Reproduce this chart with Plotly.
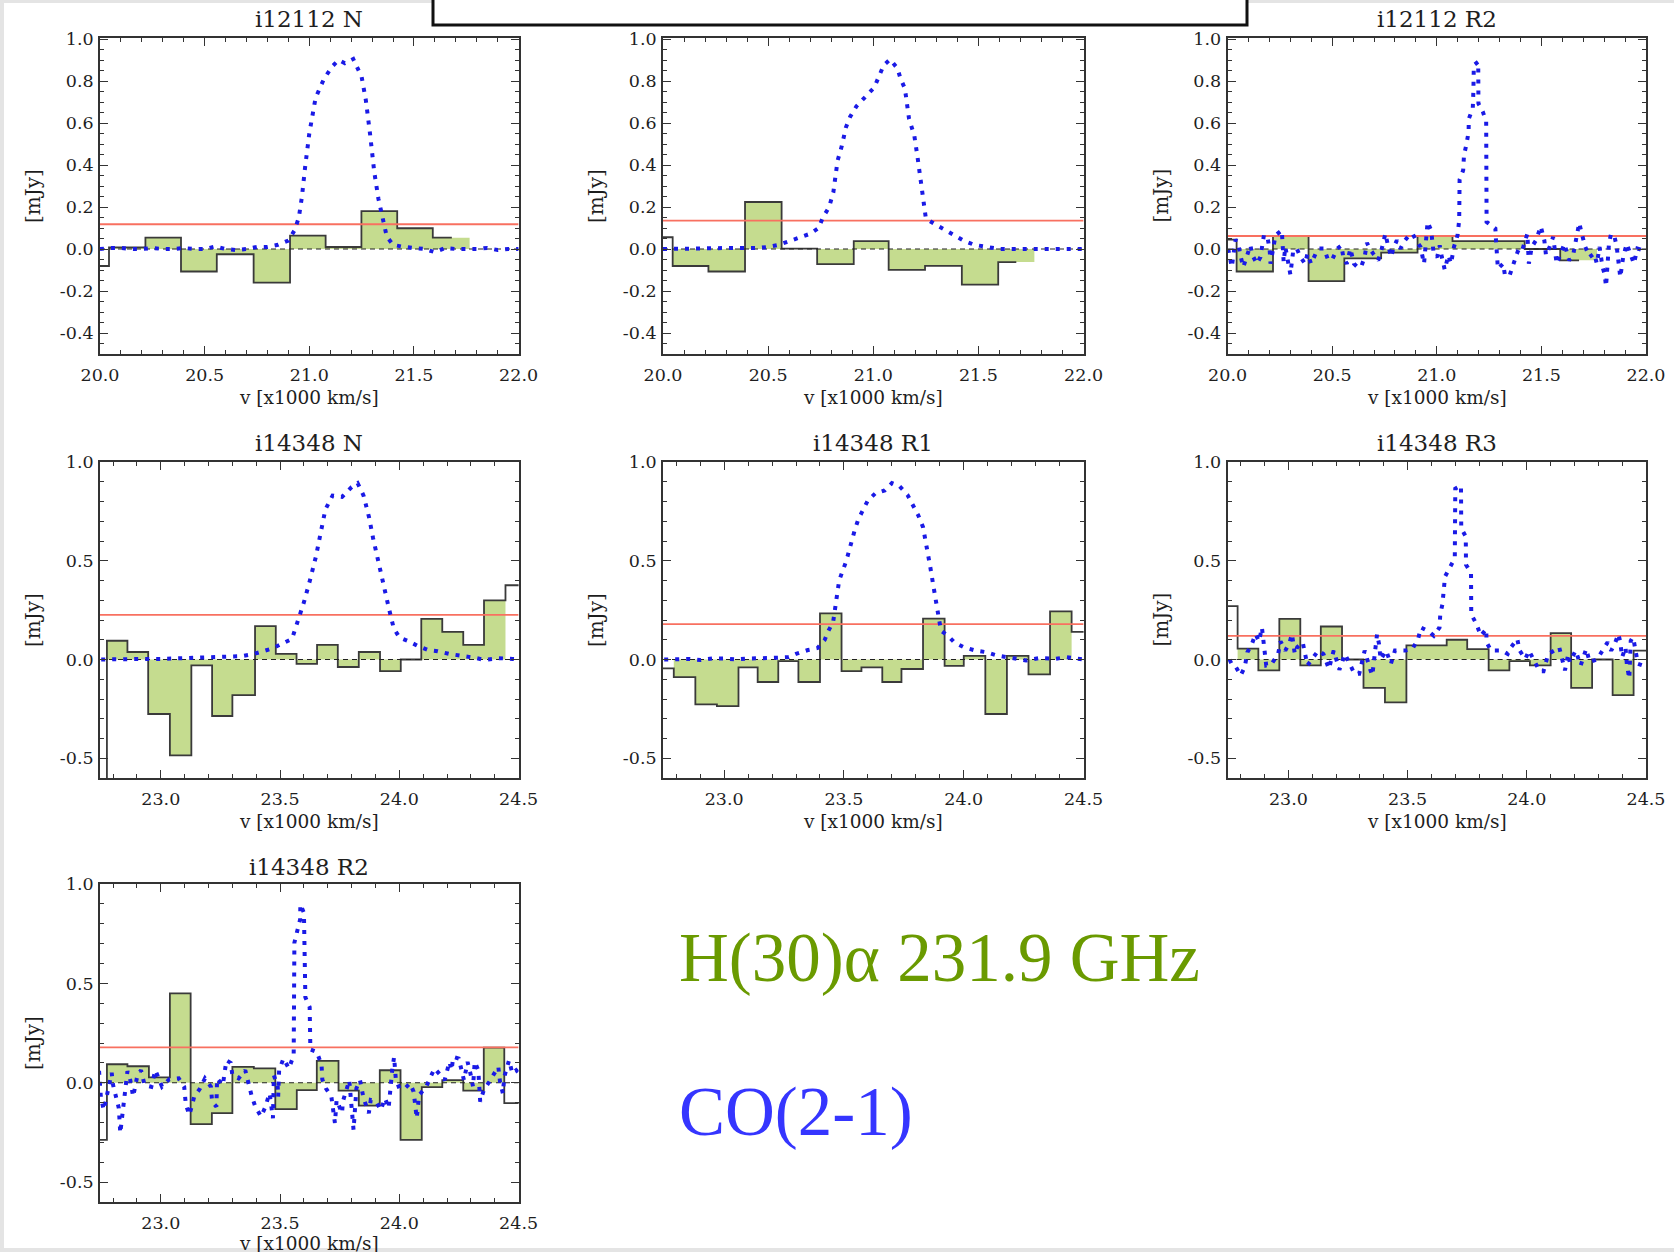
import plotly.graph_objects as go

W, H = 1674, 1252

# ---------------- data ----------------
titles = ["i12112 N", "", "i12112 R2", "i14348 N", "i14348 R1", "i14348 R3", "i14348 R2"]

# H(30)alpha binned spectra: bin edges [x1000 km/s] and flux [mJy]
h1_edges = [19.96, 20.043, 20.217, 20.387, 20.558, 20.734, 20.908, 21.078, 21.249, 21.420, 21.590, 21.681]
h1_vals = [-0.081, 0.008, 0.054, -0.107, -0.025, -0.16, 0.064, 0.0095, 0.18, 0.099, 0.054]
h2_edges = [19.96, 20.046, 20.216, 20.39, 20.564, 20.733, 20.907, 21.073, 21.246, 21.421, 21.594, 21.68]
h2_vals = [0.056, -0.081, -0.107, 0.224, 0.002, -0.072, 0.038, -0.099, -0.08, -0.17, -0.062]
h3_edges = [19.96, 20.043, 20.217, 20.387, 20.558, 20.734, 20.908, 21.075, 21.249, 21.42, 21.59, 21.68]
h3_vals = [0.045, -0.107, 0.062, -0.153, -0.045, -0.017, 0.062, 0.038, 0.038, 0.0, -0.054]
h4_edges = [22.70, 22.774, 22.86, 22.947, 23.038, 23.128, 23.215, 23.30, 23.395, 23.482, 23.569, 23.655,
            23.742, 23.83, 23.919, 24.006, 24.092, 24.18, 24.268, 24.355, 24.445, 24.53]
h4_vals = [-0.7, 0.095, 0.038, -0.276, -0.485, -0.03, -0.286, -0.18, 0.169, 0.028, -0.022, 0.074,
           -0.038, 0.038, -0.059, 0.0, 0.206, 0.14, 0.074, 0.299, 0.376]
h5_edges = [22.70, 22.79, 22.88, 22.97, 23.06, 23.14, 23.226, 23.31, 23.40, 23.49, 23.573, 23.66,
            23.74, 23.83, 23.92, 24.0, 24.09, 24.18, 24.27, 24.36, 24.45, 24.53]
h5_vals = [-0.045, -0.089, -0.227, -0.236, -0.04, -0.114, -0.008, -0.114, 0.234, -0.059, -0.04, -0.114,
           -0.048, 0.207, -0.032, 0.018, -0.276, 0.018, -0.075, 0.244, 0.14]
h6_edges = [22.70, 22.787, 22.874, 22.962, 23.05, 23.136, 23.225, 23.315, 23.405, 23.495, 23.58, 23.664,
            23.75, 23.84, 23.927, 24.013, 24.10, 24.186, 24.274, 24.36, 24.448, 24.53]
h6_vals = [0.27, 0.055, -0.055, 0.206, -0.03, 0.167, 0.0, -0.144, -0.217, 0.072, 0.072, 0.10,
           0.053, -0.055, -0.008, -0.03, 0.134, -0.144, 0.0, -0.18, 0.045]
h7_edges = [22.70, 22.774, 22.86, 22.95, 23.038, 23.125, 23.214, 23.30, 23.39, 23.48, 23.57, 23.654,
            23.745, 23.83, 23.918, 24.005, 24.094, 24.18, 24.268, 24.354, 24.44, 24.53]
h7_vals = [-0.287, 0.093, 0.083, 0.027, 0.45, -0.208, -0.153, 0.08, 0.072, -0.133, -0.037, 0.11,
           -0.04, -0.115, 0.063, -0.287, -0.022, 0.013, -0.04, 0.177, -0.103]

# shaded velocity interval of each H(30)alpha spectrum
fill_ranges = [(20.043, 21.766), (20.046, 21.766), (20.043, 21.766), (22.774, 24.445),
               (22.79, 24.45), (22.787, 24.448), (22.774, 24.44)]
# rms level (red line)
rms_levels = [0.118, 0.135, 0.062, 0.226, 0.179, 0.12, 0.178]

# CO(2-1) normalised spectra
co1_v = [20.00, 20.05, 20.10, 20.15, 20.20, 20.25, 20.30, 20.35, 20.40, 20.45, 20.50, 20.55, 20.60, 20.65,
         20.70, 20.75, 20.80, 20.85, 20.90, 20.93, 20.95, 20.965, 20.98, 21.00, 21.03, 21.07, 21.11, 21.14,
         21.17, 21.21, 21.25, 21.27, 21.29, 21.31, 21.33, 21.35, 21.37, 21.40, 21.45, 21.50, 21.55, 21.60,
         21.65, 21.70, 21.75, 21.80, 21.85, 21.90, 21.95, 22.00]
co1_f = [0.0, 0.005, 0.005, 0.0, 0.0, 0.005, 0.0, 0.0, 0.005, 0.0, 0.0, 0.012, 0.0, -0.005,
         0.0, 0.01, 0.01, 0.02, 0.04, 0.09, 0.15, 0.25, 0.39, 0.55, 0.72, 0.81, 0.87, 0.90,
         0.885, 0.905, 0.82, 0.71, 0.55, 0.37, 0.24, 0.14, 0.06, 0.02, 0.01, 0.005, 0.0, -0.015,
         0.005, 0.0, 0.0, 0.0, 0.005, -0.005, 0.0, 0.0]
co2_v = [20.00, 20.10, 20.20, 20.30, 20.40, 20.45, 20.50, 20.55, 20.60, 20.65, 20.70, 20.74, 20.76, 20.79,
         20.81, 20.83, 20.85, 20.87, 20.89, 20.92, 20.95, 20.98, 21.005, 21.03, 21.05, 21.08, 21.115, 21.13,
         21.15, 21.17, 21.195, 21.21, 21.225, 21.235, 21.25, 21.29, 21.34, 21.38, 21.43, 21.48, 21.54, 21.60,
         21.70, 21.80, 21.90, 22.00]
co2_f = [0.0, 0.0, 0.003, 0.005, 0.005, 0.005, 0.01, 0.02, 0.037, 0.054, 0.073, 0.10, 0.15, 0.2,
         0.27, 0.42, 0.49, 0.58, 0.63, 0.68, 0.71, 0.74, 0.77, 0.83, 0.876, 0.903, 0.86, 0.81,
         0.765, 0.62, 0.54, 0.44, 0.34, 0.25, 0.145, 0.12, 0.09, 0.07, 0.04, 0.02, 0.01, 0.0,
         0.0, 0.0, 0.0, 0.0]
co3_v = [20.003, 20.012, 20.02, 20.038, 20.051, 20.063, 20.075, 20.092, 20.109, 20.119, 20.14, 20.157,
         20.174, 20.191, 20.201, 20.205, 20.229, 20.259, 20.268, 20.276, 20.287, 20.30, 20.314, 20.331,
         20.348, 20.37, 20.382, 20.399, 20.421, 20.439, 20.461, 20.481, 20.502, 20.524, 20.544, 20.553,
         20.57, 20.587, 20.604, 20.621, 20.638, 20.655, 20.666, 20.679, 20.696, 20.72, 20.737, 20.754,
         20.765, 20.782, 20.792, 20.809, 20.826, 20.848, 20.867, 20.884, 20.901, 20.922, 20.939, 20.956,
         20.973, 20.985, 21.002, 21.014, 21.024, 21.038, 21.055, 21.068, 21.082, 21.099, 21.107, 21.109,
         21.126, 21.13, 21.142, 21.152, 21.153, 21.172, 21.175, 21.177, 21.198, 21.199, 21.22, 21.236,
         21.238, 21.28, 21.283, 21.287, 21.292, 21.317, 21.326, 21.348, 21.369, 21.386, 21.403, 21.42,
         21.433, 21.44, 21.454, 21.474, 21.497, 21.514, 21.522, 21.539, 21.556, 21.573, 21.59, 21.61,
         21.633, 21.653, 21.671, 21.681, 21.693, 21.71, 21.73, 21.753, 21.765, 21.778, 21.792, 21.802,
         21.809, 21.823, 21.833, 21.85, 21.86, 21.869, 21.877, 21.891, 21.908, 21.925, 21.942, 21.959,
         21.976, 21.997]
co3_f = [0.0, -0.038, -0.086, 0.045, 0.025, -0.038, -0.086, -0.035, 0.017, -0.03, -0.07, -0.038,
         0.068, 0.054, -0.003, -0.07, 0.065, 0.089, -0.062, 0.01, -0.059, -0.121, -0.006, 0.002,
         -0.038, -0.07, -0.022, -0.07, -0.022, 0.002, 0.002, -0.054, -0.046, 0.002, 0.017, -0.038,
         -0.07, 0.002, -0.07, -0.086, -0.086, -0.038, 0.03, 0.002, -0.022, -0.054, 0.002, 0.073,
         0.025, -0.038, 0.002, 0.041, 0.002, 0.041, 0.065, 0.073, 0.041, 0.01, -0.07, 0.129,
         0.089, -0.022, -0.038, 0.017, -0.038, -0.099, -0.03, -0.07, 0.01, 0.065, 0.137, 0.33,
         0.375, 0.447, 0.5, 0.558, 0.62, 0.67, 0.757, 0.876, 0.892, 0.693, 0.654, 0.606,
         0.129, 0.097, 0.041, -0.03, -0.094, -0.07, -0.126, -0.126, -0.07, -0.014, -0.022, 0.041,
         0.073, -0.07, 0.01, 0.041, 0.108, 0.041, -0.03, 0.01, 0.057, -0.07, -0.022, 0.025,
         -0.054, -0.022, 0.073, 0.124, 0.073, 0.01, -0.038, -0.022, -0.07, 0.01, -0.086, -0.118,
         -0.178, 0.025, 0.073, 0.057, 0.01, -0.094, -0.134, -0.038, 0.025, -0.022, -0.07, 0.002,
         -0.003, 0.0]
co4_v = [22.75, 22.80, 22.85, 22.90, 22.95, 23.00, 23.05, 23.10, 23.15, 23.22, 23.28, 23.34, 23.39, 23.43,
         23.47, 23.52, 23.55, 23.565, 23.58, 23.60, 23.625, 23.65, 23.67, 23.69, 23.72, 23.76, 23.80,
         23.825, 23.85, 23.873, 23.89, 23.91, 23.935, 23.956, 23.976, 24.0, 24.04, 24.08, 24.12, 24.16,
         24.21, 24.265, 24.32, 24.355, 24.415, 24.475, 24.5]
co4_f = [0.0, 0.002, 0.0, 0.003, 0.003, 0.003, 0.005, 0.005, 0.008, 0.008, 0.012, 0.017, 0.028, 0.045,
         0.057, 0.087, 0.104, 0.16, 0.21, 0.29, 0.40, 0.52, 0.64, 0.76, 0.83, 0.823, 0.873,
         0.893, 0.83, 0.72, 0.614, 0.50, 0.37, 0.26, 0.16, 0.112, 0.092, 0.067, 0.048, 0.042,
         0.028, 0.02, 0.008, -0.002, 0.007, 0.003, 0.0]
co5_v = [22.75, 22.80, 22.85, 22.90, 22.95, 23.00, 23.05, 23.10, 23.15, 23.20, 23.27, 23.30, 23.35, 23.39,
         23.42, 23.435, 23.455, 23.465, 23.48, 23.51, 23.53, 23.545, 23.56, 23.58, 23.60, 23.63, 23.67,
         23.70, 23.73, 23.765, 23.79, 23.81, 23.83, 23.845, 23.86, 23.875, 23.89, 23.905, 23.935, 23.96,
         24.0, 24.05, 24.095, 24.14, 24.2, 24.26, 24.32, 24.38, 24.43, 24.5]
co5_f = [0.0, 0.0, 0.003, -0.003, 0.005, 0.005, 0.0, 0.005, 0.005, 0.008, 0.012, 0.028, 0.048, 0.058,
         0.10, 0.145, 0.19, 0.28, 0.40, 0.50, 0.60, 0.655, 0.71, 0.756, 0.806, 0.84, 0.856,
         0.893, 0.88, 0.834, 0.78, 0.73, 0.67, 0.58, 0.47, 0.36, 0.25, 0.145, 0.12, 0.087,
         0.062, 0.045, 0.037, 0.02, 0.008, -0.005, 0.008, 0.003, 0.012, 0.0]
co6_v = [22.753, 22.765, 22.78, 22.80, 22.817, 22.828, 22.847, 22.862, 22.877, 22.889, 22.907, 22.93,
         22.957, 22.967, 22.987, 23.005, 23.015, 23.027, 23.037, 23.06, 23.08, 23.10, 23.125, 23.147,
         23.17, 23.19, 23.214, 23.237, 23.26, 23.277, 23.297, 23.32, 23.342, 23.352, 23.372, 23.38,
         23.387, 23.41, 23.43, 23.447, 23.47, 23.49, 23.52, 23.544, 23.556, 23.59, 23.61, 23.634,
         23.637, 23.646, 23.657, 23.676, 23.698, 23.70, 23.724, 23.725, 23.744, 23.745, 23.766, 23.767,
         23.789, 23.807, 23.83, 23.831, 23.85, 23.897, 23.92, 23.934, 23.95, 23.96, 23.97, 23.994,
         24.009, 24.03, 24.054, 24.07, 24.09, 24.114, 24.136, 24.16, 24.174, 24.18, 24.205, 24.226,
         24.249, 24.264, 24.294, 24.339, 24.354, 24.369, 24.384, 24.391, 24.40, 24.414, 24.42, 24.43,
         24.436, 24.444, 24.45, 24.466, 24.486, 24.504]
co6_f = [0.0, -0.03, -0.038, -0.08, -0.038, 0.037, 0.079, 0.129, 0.092, 0.162, -0.03, -0.022,
         0.028, 0.092, 0.045, 0.087, 0.129, 0.028, 0.062, 0.087, -0.03, 0.003, 0.045, 0.028,
         -0.047, 0.045, -0.052, 0.028, -0.03, -0.072, -0.072, 0.045, -0.047, -0.08, 0.129, 0.079,
         0.0, 0.045, -0.022, 0.045, 0.045, 0.045, 0.053, 0.104, 0.162, 0.142, 0.12, 0.162,
         0.229, 0.279, 0.42, 0.463, 0.513, 0.865, 0.88, 0.664, 0.622, 0.48, 0.438, 0.229,
         0.179, 0.12, 0.154, 0.087, 0.045, 0.045, 0.028, 0.062, 0.087, 0.104, 0.045, 0.003,
         0.045, -0.005, -0.059, -0.059, 0.028, 0.045, 0.062, -0.055, 0.028, -0.013, 0.045, -0.03,
         0.053, -0.013, 0.0, 0.087, 0.045, 0.079, 0.129, 0.095, 0.012, 0.062, -0.03, -0.097,
         0.095, 0.112, 0.087, -0.022, -0.03, -0.038]
co7_v = [22.741, 22.749, 22.761, 22.774, 22.794, 22.80, 22.812, 22.824, 22.83, 22.85, 22.86, 22.872,
         22.884, 22.902, 22.917, 22.932, 22.96, 22.977, 23.005, 23.035, 23.075, 23.098, 23.105, 23.12,
         23.14, 23.165, 23.185, 23.21, 23.215, 23.233, 23.236, 23.26, 23.275, 23.293, 23.30, 23.326,
         23.354, 23.38, 23.396, 23.42, 23.436, 23.456, 23.47, 23.474, 23.49, 23.492, 23.496, 23.514,
         23.537, 23.557, 23.56, 23.572, 23.584, 23.585, 23.60, 23.606, 23.624, 23.627, 23.654, 23.674,
         23.677, 23.692, 23.715, 23.73, 23.737, 23.76, 23.763, 23.782, 23.79, 23.808, 23.82, 23.835,
         23.85, 23.872, 23.88, 23.903, 23.922, 23.94, 23.955, 23.97, 23.978, 23.985, 24.0, 24.023,
         24.045, 24.06, 24.073, 24.083, 24.113, 24.128, 24.148, 24.166, 24.19, 24.21, 24.219, 24.226,
         24.249, 24.271, 24.286, 24.298, 24.309, 24.316, 24.331, 24.339, 24.354, 24.377, 24.40, 24.415,
         24.422, 24.434, 24.44, 24.46, 24.474, 24.49, 24.5]
co7_f = [0.06, -0.078, -0.137, -0.053, 0.05, -0.012, -0.062, -0.128, -0.253, -0.07, 0.058, 0.013,
         -0.07, 0.038, 0.063, -0.012, -0.02, 0.063, -0.02, 0.017, 0.022, -0.02, -0.112, -0.162,
         -0.07, -0.028, 0.022, -0.02, -0.095, -0.12, 0.022, -0.012, 0.113, 0.1, 0.038, 0.022,
         0.063, -0.062, -0.12, -0.17, -0.128, -0.053, -0.178, 0.038, -0.02, -0.07, 0.063, 0.122,
         0.072, 0.138, 0.705, 0.763, 0.822, 0.897, 0.855, 0.43, 0.38, 0.167, 0.155, 0.088,
         0.017, -0.028, -0.07, -0.203, -0.087, -0.153, -0.095, -0.02, 0.013, -0.237, -0.028, 0.013,
         -0.078, -0.153, -0.087, -0.095, -0.137, -0.078, -0.128, 0.063, 0.13, 0.022, -0.028, -0.028,
         -0.003, -0.045, -0.178, -0.062, -0.02, 0.022, 0.072, 0.047, 0.013, 0.105, 0.063, 0.13,
         0.122, 0.013, 0.105, 0.047, -0.02, 0.105, 0.063, -0.095, -0.037, 0.005, 0.047, 0.08,
         0.005, -0.053, 0.03, 0.113, 0.047, 0.063, 0.05]

# axis ranges and ticks
x_range_top = [20.0, 22.0]
x_range_bot = [22.745, 24.5]
y_range_top = [-0.5, 1.005]
y_range_bot = [-0.6, 1.0]
x_ticks_top = [20.0, 20.5, 21.0, 21.5, 22.0]
x_ticks_bot = [23.0, 23.5, 24.0, 24.5]
y_ticks_top = [-0.4, -0.2, 0.0, 0.2, 0.4, 0.6, 0.8, 1.0]
y_ticks_bot = [-0.5, 0.0, 0.5, 1.0]
x_labels_top = ["20.0", "20.5", "21.0", "21.5", "22.0"]
x_labels_bot = ["23.0", "23.5", "24.0", "24.5"]
y_labels_top = ["-0.4", "-0.2", "0.0", "0.2", "0.4", "0.6", "0.8", "1.0"]
y_labels_bot = ["-0.5", "0.0", "0.5", "1.0"]

hist_edges = [h1_edges, h2_edges, h3_edges, h4_edges, h5_edges, h6_edges, h7_edges]
hist_vals = [h1_vals, h2_vals, h3_vals, h4_vals, h5_vals, h6_vals, h7_vals]
co_v = [co1_v, co2_v, co3_v, co4_v, co5_v, co6_v, co7_v]
co_f = [co1_f, co2_f, co3_f, co4_f, co5_f, co6_f, co7_f]

# ---------------- style / layout ----------------
GREEN = "#c5dc8f"
OUTLINE = "#3a3a3a"
RED = "#f87060"
BLUE = "#1a1ae6"
AX = "#333333"
TXT = "#1e1e1e"
SERIF = "DejaVu Serif"

cols_px = [(100, 518.6), (663, 1083.6), (1227.6, 1646)]
rows_px = [(38, 354), (462, 778), (884, 1202)]
title_y_px = [19, 443, 867]
placement = [(0, 0), (1, 0), (2, 0), (0, 1), (1, 1), (2, 1), (0, 2)]


def fx(p):
    return p / W


def fy(p):
    return 1 - p / H


def val_at(edges, vals, x):
    for i in range(len(vals)):
        if edges[i] - 1e-9 <= x < edges[i + 1] - 1e-9:
            return vals[i]
    return vals[-1]


def fill_steps(edges, vals, x0, x1):
    pts = [x0] + [e for e in edges if x0 + 1e-6 < e < x1 - 1e-6]
    ys = [val_at(edges, vals, p) for p in pts]
    return pts + [x1], ys + [ys[-1]]


fig = go.Figure()
annotations = []
layout_axes = {}

for k in range(7):
    c, r = placement[k]
    n = k + 1
    xa = "x" if n == 1 else f"x{n}"
    ya = "y" if n == 1 else f"y{n}"
    top = r == 0
    xr = x_range_top if top else x_range_bot
    yr = y_range_top if top else y_range_bot

    fxs, fys = fill_steps(hist_edges[k], hist_vals[k], *fill_ranges[k])
    fig.add_trace(go.Scatter(x=fxs, y=fys, mode="lines", line=dict(shape="hv", width=0, color=GREEN),
                             fill="tozeroy", fillcolor=GREEN, xaxis=xa, yaxis=ya, showlegend=False,
                             hoverinfo="skip"))
    fig.add_trace(go.Scatter(x=hist_edges[k], y=hist_vals[k] + [hist_vals[k][-1]], mode="lines",
                             line=dict(shape="hv", width=1.8, color=OUTLINE), xaxis=xa, yaxis=ya,
                             showlegend=False))
    fig.add_trace(go.Scatter(x=xr, y=[0, 0], mode="lines",
                             line=dict(width=1.2, color="#222222", dash="5px,4px"),
                             xaxis=xa, yaxis=ya, showlegend=False))
    fig.add_trace(go.Scatter(x=xr, y=[rms_levels[k]] * 2, mode="lines",
                             line=dict(width=1.8, color=RED), xaxis=xa, yaxis=ya, showlegend=False))
    fig.add_trace(go.Scatter(x=co_v[k], y=co_f[k], mode="lines",
                             line=dict(width=4, color=BLUE, dash="4px,7px"),
                             xaxis=xa, yaxis=ya, showlegend=False))

    common = dict(showgrid=False, zeroline=False, showline=True, linecolor=AX, linewidth=1.8,
                  mirror="allticks", ticks="inside", ticklen=8, tickwidth=1.2, tickcolor=AX,
                  tickfont=dict(family=SERIF, size=17.5, color=TXT), tickmode="array",
                  automargin=False)
    layout_axes["xaxis" if n == 1 else f"xaxis{n}"] = dict(
        common, domain=[fx(cols_px[c][0]), fx(cols_px[c][1])], range=xr, anchor=ya,
        tickvals=x_ticks_top if top else x_ticks_bot,
        ticktext=x_labels_top if top else x_labels_bot, ticklabelstandoff=4,
        minor=dict(ticks="inside", ticklen=4, tickwidth=1, tickcolor=AX, tickmode="linear",
                   tick0=20.0, dtick=0.1))
    layout_axes["yaxis" if n == 1 else f"yaxis{n}"] = dict(
        common, domain=[fy(rows_px[r][1]), fy(rows_px[r][0])], range=yr, anchor=xa,
        tickvals=y_ticks_top if top else y_ticks_bot,
        ticktext=y_labels_top if top else y_labels_bot, ticklabelstandoff=1,
        minor=dict(ticks="inside", ticklen=4, tickwidth=1, tickcolor=AX, tickmode="linear",
                   tick0=0.0, dtick=0.05 if top else 0.1))

    xc = (cols_px[c][0] + cols_px[c][1]) / 2
    if titles[k]:
        annotations.append(dict(text=titles[k], x=fx(xc), y=fy(title_y_px[r]), xref="paper", yref="paper",
                                showarrow=False, xanchor="center", yanchor="middle",
                                font=dict(family=SERIF, size=23, color=TXT)))
    xt_y = rows_px[r][1] + 43 if r < 2 else 1243
    annotations.append(dict(text="v [x1000 km/s]", x=fx(xc), y=fy(xt_y), xref="paper",
                            yref="paper", showarrow=False, xanchor="center", yanchor="middle",
                            font=dict(family=SERIF, size=18.5, color=TXT)))
    annotations.append(dict(text="[mJy]", x=fx(cols_px[c][0] - 67), y=fy((rows_px[r][0] + rows_px[r][1]) / 2),
                            xref="paper", yref="paper", showarrow=False, textangle=-90,
                            xanchor="center", yanchor="middle",
                            font=dict(family=SERIF, size=20, color=TXT)))

annotations.append(dict(text="H(30)α 231.9 GHz", x=fx(677), y=fy(958), xref="paper", yref="paper",
                        showarrow=False, xanchor="left", yanchor="middle",
                        font=dict(family="Liberation Serif", size=69, color="#6a9a00")))
annotations.append(dict(text="CO(2-1)", x=fx(677), y=fy(1112), xref="paper", yref="paper",
                        showarrow=False, xanchor="left", yanchor="middle",
                        font=dict(family="Liberation Serif", size=69, color="#3535ff")))

shapes = [
    dict(type="rect", xref="paper", yref="paper", x0=0, x1=1, y0=fy(3), y1=1.01,
         fillcolor="#e4e4e4", line=dict(width=0), layer="above"),
    dict(type="rect", xref="paper", yref="paper", x0=-0.01, x1=fx(4), y0=-0.01, y1=1.01,
         fillcolor="#e4e4e4", line=dict(width=0), layer="above"),
    dict(type="rect", xref="paper", yref="paper", x0=0, x1=1, y0=-0.01, y1=fy(1248),
         fillcolor="#e4e4e4", line=dict(width=0), layer="above"),
    dict(type="rect", xref="paper", yref="paper", x0=fx(433), x1=fx(1247), y0=fy(25), y1=fy(-10),
         fillcolor="white", line=dict(width=3, color="#111111"), layer="above"),
]

fig.update_layout(width=W, height=H, margin=dict(l=0, r=0, t=0, b=0, pad=0, autoexpand=False),
                  paper_bgcolor="white", plot_bgcolor="white", showlegend=False,
                  annotations=annotations, shapes=shapes, **layout_axes)

fig.write_html("out.html")
